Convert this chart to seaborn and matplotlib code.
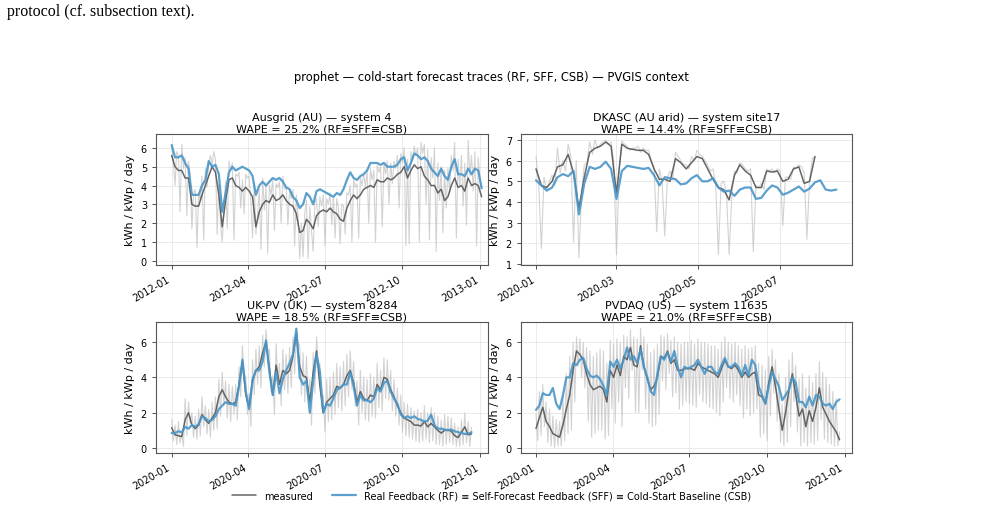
import pandas as pd
import matplotlib
matplotlib.use("Agg")
import matplotlib.pyplot as plt
import matplotlib.dates as mdates
import seaborn as sns

# values in kWh / kWp / day
# raw measured: one value every 2 days; smoothed measured and forecast: every 4 days
aus_start = "2012-01-01"
aus_raw = [6.1, 5.2, 4.0, 5.8, 5.6, 2.6, 6.2, 4.9, 5.5, 2.4, 5.3, 4.6, 1.7, 3.6, 3.8, 0.7, 3.6, 3.2, 4.5, 1.1,
           4.9, 3.9, 5.2, 5.6, 5.1, 5.8, 5.4, 1.4, 4.1, 2.0, 1.0, 2.6, 4.2, 1.7, 5.3, 4.8, 5.2, 1.1, 4.6, 4.5,
           4.7, 2.8, 4.3, 2.5, 4.6, 4.4, 4.5, 3.2, 1.2, 4.2, 1.4, 2.5, 3.8, 0.6, 4.4, 2.7, 4.0, 0.4, 4.0, 3.5,
           4.3, 1.6, 4.1, 3.9, 4.2, 2.0, 4.5, 3.8, 3.9, 1.9, 3.7, 3.3, 3.8, 0.8, 3.5, 2.4, 0.1, 2.0, 0.2, 2.5,
           3.2, 0.1, 2.9, 1.6, 0.5, 3.1, 3.3, 1.8, 3.4, 2.9, 3.5, 0.8, 3.3, 3.0, 3.6, 1.9, 3.4, 1.2, 3.3, 2.8,
           0.9, 3.0, 2.9, 1.4, 3.6, 3.5, 4.0, 1.0, 4.3, 3.9, 4.1, 1.2, 4.4, 4.0, 4.6, 3.9, 4.8, 2.0, 4.9, 4.3,
           4.8, 1.0, 5.1, 4.7, 5.0, 1.8, 5.2, 4.6, 5.3, 3.0, 5.2, 4.1, 5.3, 4.9, 5.6, 2.8, 5.7, 5.2, 6.0, 0.8,
           5.4, 0.9, 5.8, 5.3, 6.1, 5.6, 6.0, 1.0, 6.3, 5.7, 6.2, 3.0, 5.9, 1.1, 5.5, 4.4, 6.0, 0.5, 5.2, 3.2,
           5.0, 1.5, 4.8, 2.8, 4.9, 3.6, 5.6, 4.8, 6.3, 1.2, 5.4, 3.9, 5.6, 2.9, 5.2, 1.9, 6.4, 4.5, 5.6, 3.7,
           5.8, 0.8, 5.5, 4.2, 3.9]
aus_meas = [5.6, 5.0, 4.8, 4.8, 4.4, 4.4, 3.0, 2.9, 2.9, 3.5, 4.0, 4.5, 5.0, 4.7, 3.5, 1.8, 3.2, 4.3, 4.4, 4.0,
            3.9, 3.7, 3.9, 3.7, 3.4, 1.8, 2.6, 3.0, 3.2, 3.1, 3.5, 3.2, 3.3, 3.5, 3.2, 3.0, 2.9, 2.5, 1.5, 1.6,
            2.2, 2.0, 1.7, 2.4, 2.6, 2.7, 2.6, 2.8, 2.6, 2.5, 2.2, 2.1, 2.8, 3.2, 3.5, 3.3, 3.5, 3.8, 3.9, 4.0,
            3.9, 4.3, 4.2, 4.2, 4.4, 4.3, 4.4, 4.6, 4.7, 5.0, 4.4, 4.8, 5.1, 4.9, 5.0, 4.5, 4.3, 4.0, 4.0, 3.6,
            3.8, 3.2, 3.4, 4.0, 4.4, 3.9, 4.0, 3.7, 4.4, 4.0, 4.1, 4.0, 3.4]
aus_fc = [6.15, 5.5, 5.5, 5.6, 5.2, 4.9, 3.5, 3.5, 3.5, 4.0, 4.3, 5.3, 5.0, 5.1, 4.6, 2.6, 3.6, 4.7, 5.0, 4.8,
          4.9, 5.0, 4.9, 4.8, 4.5, 3.5, 4.0, 4.2, 4.0, 4.2, 4.4, 4.3, 4.4, 4.2, 3.9, 3.8, 3.4, 3.2, 2.8, 3.0,
          3.6, 3.4, 3.0, 3.7, 3.8, 3.7, 3.6, 3.5, 3.4, 3.6, 3.5, 3.8, 4.3, 4.7, 4.4, 4.3, 4.5, 4.6, 4.8, 5.2,
          5.2, 5.2, 5.1, 5.2, 5.0, 5.0, 5.0, 5.1, 5.4, 5.5, 4.8, 5.2, 5.7, 5.6, 5.4, 5.5, 5.3, 4.9, 4.7, 4.5,
          4.9, 4.5, 4.3, 5.0, 5.4, 4.6, 4.6, 4.5, 4.9, 4.6, 4.9, 4.8, 3.85]

dka_start = "2020-01-01"
dka_raw = [6.2, 4.9, 1.75, 5.2, 4.6, 5.0, 5.3, 4.8, 6.6, 5.4, 6.0, 5.5, 6.8, 6.2, 2.05, 6.0, 1.3, 4.5, 5.8, 5.9,
           6.9, 6.3, 7.0, 6.6, 6.8, 6.9, 7.0, 6.8, 6.9, 5.9, 1.45, 5.5, 6.95, 6.8, 6.7, 6.5, 6.6, 6.6, 6.7, 6.4,
           6.6, 6.5, 6.5, 6.0, 5.7, 2.55, 5.6, 5.0, 2.35, 5.2, 5.5, 5.1, 6.4, 6.2, 6.0, 5.8, 5.8, 5.6, 6.2, 6.0,
           6.5, 6.3, 6.2, 6.0, 5.8, 5.5, 5.6, 4.8, 1.45, 4.9, 5.0, 4.5, 1.45, 4.3, 5.5, 5.4, 5.9, 5.8, 5.6, 5.5,
           5.6, 1.6, 4.8, 4.7, 4.9, 4.6, 5.6, 5.5, 5.6, 5.4, 5.6, 5.5, 2.85, 5.2, 5.2, 5.1, 5.7, 5.6, 5.8, 5.7,
           5.4, 2.2, 5.1, 6.1, 6.2]
dka_meas = [5.6, 4.8, 4.7, 5.0, 5.7, 5.8, 6.3, 5.4, 3.7, 5.2, 6.4, 6.6, 6.7, 6.9, 6.7, 4.4, 6.8, 6.6, 6.55, 6.5,
            6.5, 6.3, 5.6, 5.1, 5.1, 5.0, 6.1, 5.9, 5.6, 5.9, 6.2, 6.1, 5.6, 5.1, 4.7, 4.6, 4.1, 5.3, 5.8, 5.5,
            5.3, 4.7, 4.7, 5.5, 5.45, 5.5, 5.0, 5.1, 5.6, 5.7, 4.9, 5.0, 6.2]
dka_fc = [5.05, 4.8, 4.55, 4.7, 5.2, 5.35, 5.25, 5.5, 3.4, 4.9, 5.7, 5.6, 5.7, 5.95, 5.6, 4.15, 5.5, 5.75, 5.7, 5.65,
          5.6, 5.65, 5.3, 4.8, 5.2, 5.15, 5.1, 4.85, 4.9, 5.15, 5.3, 5.0, 5.0, 5.15, 4.7, 4.5, 4.55, 4.3, 4.6, 4.7,
          4.7, 4.15, 4.2, 4.55, 4.8, 4.7, 4.35, 4.45, 4.6, 4.75, 4.5, 4.65, 4.95, 5.05, 4.6, 4.55, 4.6]

ukp_start = "2020-01-01"
ukp_raw = [1.6, 0.4, 1.3, 0.2, 1.5, 0.3, 0.8, 0.1, 2.8, 0.7, 2.6, 1.4, 2.0, 0.6, 1.8, 0.5, 2.2, 0.7, 2.9, 1.2,
           2.4, 0.8, 2.2, 0.6, 2.6, 1.0, 2.9, 1.1, 3.9, 1.8, 4.3, 2.4, 3.8, 1.7, 3.6, 1.5, 3.5, 1.9, 3.6, 1.6,
           4.6, 2.9, 5.8, 4.2, 4.0, 1.9, 3.1, 1.2, 5.0, 3.0, 5.6, 3.6, 5.8, 3.4, 6.4, 4.6, 6.7, 5.4, 5.6, 3.2,
           4.1, 1.9, 5.9, 3.8, 4.8, 2.4, 5.6, 3.3, 5.3, 3.1, 5.7, 3.4, 6.3, 4.2, 6.8, 6.0, 5.8, 3.0, 5.4, 2.6,
           5.2, 2.8, 3.9, 1.3, 5.4, 3.1, 6.3, 4.7, 4.8, 2.2, 3.0, 0.9, 3.9, 1.5, 4.0, 1.6, 4.3, 1.9, 4.8, 2.3,
           4.6, 2.1, 4.9, 2.4, 5.3, 2.9, 5.5, 3.3, 4.9, 2.4, 3.8, 1.3, 4.4, 2.0, 4.0, 1.6, 3.9, 1.5, 4.2, 1.8,
           4.0, 1.7, 4.8, 2.3, 4.4, 2.1, 5.1, 2.8, 5.0, 2.7, 4.4, 2.1, 3.9, 1.8, 3.4, 1.3, 3.0, 0.9, 2.6, 0.7,
           2.5, 0.6, 2.3, 0.5, 2.1, 0.4, 2.2, 0.3, 2.0, 0.4, 2.4, 0.5, 2.0, 0.3, 2.3, 0.4, 2.0, 0.2, 1.8, 0.2,
           1.6, 0.1, 1.9, 0.2, 1.8, 0.3, 1.7, 0.2, 1.4, 0.1, 1.2, 0.1, 1.6, 0.2, 2.0, 0.3, 1.5, 0.1, 1.2]
ukp_meas = [1.15, 0.75, 0.7, 0.65, 1.6, 2.0, 1.3, 1.1, 1.3, 1.9, 1.6, 1.4, 1.7, 2.0, 2.9, 3.3, 2.9, 2.6, 2.5, 2.6,
            3.6, 4.9, 3.0, 2.3, 3.9, 4.4, 4.6, 5.4, 6.0, 4.5, 3.0, 4.7, 3.6, 4.4, 4.2, 4.4, 5.2, 6.5, 4.6, 4.1,
            4.0, 2.6, 4.3, 5.5, 3.5, 2.0, 2.6, 2.8, 3.0, 3.5, 3.4, 3.6, 4.1, 4.4, 3.7, 2.6, 3.2, 2.8, 2.7, 3.0,
            2.9, 3.6, 3.3, 4.0, 3.9, 3.3, 2.9, 2.4, 2.0, 1.7, 1.6, 1.5, 1.3, 1.3, 1.25, 1.5, 1.2, 1.4, 1.2, 1.0,
            0.85, 1.0, 1.05, 0.95, 0.7, 0.6, 0.9, 1.2, 0.75, 0.8]
ukp_fc = [0.85, 0.85, 0.95, 0.9, 1.2, 1.1, 1.3, 1.2, 1.35, 1.8, 1.7, 1.5, 1.6, 1.8, 2.2, 2.4, 2.6, 2.5, 2.5, 2.4,
          3.5, 5.0, 3.2, 2.2, 3.8, 4.4, 4.4, 4.9, 6.1, 4.3, 3.0, 4.3, 3.1, 3.9, 4.4, 4.8, 5.3, 6.75, 4.0, 3.6,
          3.8, 2.0, 3.8, 5.3, 4.3, 2.0, 2.5, 2.4, 2.8, 3.3, 3.4, 3.6, 3.6, 4.3, 3.5, 2.4, 3.0, 2.7, 2.7, 2.6,
          2.8, 3.4, 3.2, 3.7, 3.8, 3.2, 2.8, 2.5, 1.9, 1.7, 1.8, 1.7, 1.8, 1.65, 1.6, 1.5, 1.55, 1.9, 1.3, 1.1,
          1.1, 1.05, 1.0, 1.05, 0.95, 0.9, 0.85, 0.8, 0.8, 0.9]

pvd_start = "2020-01-01"
pvd_raw = [1.9, 0.4, 3.2, 0.7, 3.6, 1.2, 2.6, 0.3, 2.2, 0.1, 1.8, 0.0, 1.6, 0.1, 1.5, 0.1, 3.0, 0.4, 4.2, 0.8,
           5.2, 1.0, 6.0, 2.6, 6.3, 4.6, 6.2, 4.0, 6.0, 3.4, 5.7, 1.5, 5.5, 0.6, 5.2, 0.8, 5.4, 1.0, 5.6, 1.0,
           5.5, 0.5, 4.8, 0.7, 6.1, 2.2, 5.9, 1.4, 6.2, 2.6, 6.0, 1.2, 6.4, 3.4, 6.3, 2.8, 6.7, 4.4, 6.3, 2.0,
           6.2, 2.0, 6.8, 4.4, 6.3, 2.2, 5.9, 1.4, 5.4, 1.2, 5.6, 1.3, 5.9, 1.9, 6.4, 3.8, 6.3, 3.3, 6.5, 4.2,
           6.1, 2.9, 6.3, 3.1, 6.0, 2.2, 5.9, 2.4, 6.0, 2.6, 6.0, 2.5, 6.1, 2.4, 5.9, 2.3, 6.2, 3.0, 6.0, 2.6,
           6.0, 2.5, 5.9, 2.3, 5.8, 2.2, 5.8, 2.0, 5.6, 1.8, 6.0, 2.6, 6.3, 3.4, 6.0, 2.8, 5.9, 2.6, 6.0, 3.0,
           5.8, 2.4, 5.6, 1.7, 5.8, 2.2, 5.6, 1.8, 5.7, 2.0, 5.8, 2.2, 4.8, 0.6, 4.7, 0.8, 4.4, 0.4, 5.2, 1.8,
           5.6, 3.1, 5.0, 1.5, 4.2, 0.3, 2.5, 0.1, 4.0, 0.3, 5.0, 1.2, 5.4, 2.6, 4.7, 0.9, 3.9, 0.1, 4.2, 0.3,
           3.4, 0.1, 4.1, 0.3, 3.7, 0.2, 4.2, 0.4, 4.9, 1.6, 4.3, 0.5, 4.0, 0.3, 3.6, 0.2, 3.2, 0.1, 2.8, 0.1,
           0.9]
pvd_meas = [1.1, 1.7, 2.3, 1.5, 1.2, 0.8, 0.7, 0.6, 1.3, 2.2, 3.0, 4.4, 5.5, 5.3, 5.0, 4.2, 3.6, 3.3, 3.4, 3.5,
            3.3, 2.6, 4.4, 4.0, 4.7, 4.1, 5.2, 5.0, 5.7, 4.7, 4.6, 5.8, 4.6, 3.9, 3.3, 3.5, 4.0, 5.2, 5.1, 5.5,
            4.8, 5.0, 4.4, 4.4, 4.5, 4.5, 4.5, 4.4, 4.8, 4.6, 4.5, 4.4, 4.3, 4.2, 4.0, 4.5, 5.0, 4.6, 4.5, 4.7,
            4.4, 4.0, 4.3, 4.0, 4.2, 4.3, 3.0, 2.9, 2.5, 3.7, 4.6, 3.5, 2.2, 1.0, 2.0, 3.3, 4.2, 3.0, 1.8, 2.2,
            1.2, 2.1, 1.5, 2.3, 3.4, 2.3, 1.9, 1.5, 1.2, 0.9, 0.45]
pvd_fc = [2.15, 2.4, 3.1, 3.0, 3.0, 3.4, 2.5, 2.2, 3.0, 4.0, 4.0, 4.8, 4.7, 5.0, 5.1, 4.5, 4.1, 4.0, 4.1, 3.9,
          3.5, 3.0, 4.9, 4.6, 5.0, 4.5, 5.0, 5.7, 5.0, 5.2, 4.8, 5.6, 4.6, 4.0, 3.2, 3.0, 4.2, 5.2, 5.0, 5.4,
          4.9, 5.5, 4.6, 4.0, 4.6, 4.5, 4.6, 4.7, 5.0, 4.6, 4.2, 4.6, 4.6, 4.3, 4.2, 4.7, 5.1, 4.6, 4.6, 4.8,
          4.6, 4.1, 4.7, 4.1, 5.0, 4.7, 3.5, 3.0, 2.5, 3.5, 4.3, 3.9, 3.5, 2.7, 3.0, 3.3, 4.0, 3.7, 2.6, 2.6,
          2.3, 2.9, 2.4, 3.0, 2.9, 2.5, 2.4, 2.5, 2.2, 2.6, 2.75]

titles = ["Ausgrid (AU) — system 4", "DKASC (AU arid) — system site17",
          "UK-PV (UK) — system 8284", "PVDAQ (US) — system 11635"]
wape = [25.2, 14.4, 18.5, 21.0]

sns.set_theme(style="ticks")
plt.rcParams['font.family'] = ['DejaVu Sans']
plt.rcParams['text.color'] = 'black'
plt.rcParams['axes.labelcolor'] = 'black'

RAW_C = "#b5b5b5"
MEAS_C = "#555555"
FC_C = "#4a96c9"

fig = plt.figure(figsize=(9.83, 5.10), dpi=100)

panels = [
    (aus_start, aus_raw, aus_meas, aus_fc, [0.1587, 0.4784, 0.3377, 0.2569], (-18.6, 375.5), (-0.23, 6.74), range(0, 7), [1, 4, 7, 10]),
    (dka_start, dka_raw, dka_meas, dka_fc, [0.5300, 0.4784, 0.3367, 0.2569], (-11.2, 235.6), (0.95, 7.29), range(1, 8), [1, 3, 5, 7]),
    (ukp_start, ukp_raw, ukp_meas, ukp_fc, [0.1587, 0.1098, 0.3377, 0.2569], (-18.6, 375.5), (-0.28, 7.14), range(0, 7, 2), [1, 4, 7, 10]),
    (pvd_start, pvd_raw, pvd_meas, pvd_fc, [0.5300, 0.1098, 0.3367, 0.2569], (-17.8, 374.7), (-0.30, 7.15), range(0, 7, 2), [1, 4, 7, 10]),
]

for k, (start, raw, meas, fc, pos, xl, yl, yt, months) in enumerate(panels):
    ax = fig.add_axes(pos)
    t0 = pd.Timestamp(start)
    d_raw = pd.date_range(t0, periods=len(raw), freq="2D")
    d_meas = pd.date_range(t0, periods=len(meas), freq="4D")
    d_fc = pd.date_range(t0, periods=len(fc), freq="4D")

    sns.lineplot(x=d_raw, y=raw, ax=ax, color=RAW_C, lw=0.8, alpha=0.6)
    sns.lineplot(x=d_meas, y=meas, ax=ax, color=MEAS_C, lw=1.1, alpha=0.9,
                 label="measured" if k == 0 else None)
    sns.lineplot(x=d_fc, y=fc, ax=ax, color=FC_C, lw=1.6, alpha=0.9,
                 label="Real Feedback (RF) ≡ Self-Forecast Feedback (SFF) ≡ Cold-Start Baseline (CSB)" if k == 0 else None)

    ax.set_xlim(t0 + pd.Timedelta(days=xl[0]), t0 + pd.Timedelta(days=xl[1]))
    ax.set_ylim(*yl)
    ax.set_yticks(list(yt))
    ax.xaxis.set_major_locator(mdates.MonthLocator(bymonth=months))
    ax.xaxis.set_major_formatter(mdates.DateFormatter("%Y-%m"))
    for lab in ax.get_xticklabels():
        lab.set_rotation(30)
        lab.set_ha("right")
    ax.tick_params(labelsize=7, length=3, width=0.6, color="#333333", labelcolor="black")
    ax.grid(True, color="#dddddd", lw=0.6, alpha=0.7)
    for s in ax.spines.values():
        s.set_color("#555555")
        s.set_linewidth(0.8)
    ax.set_ylabel("kWh / kWp / day", fontsize=8)
    ax.set_xlabel("")
    ax.set_title(f"{titles[k]}\nWAPE = {wape[k]:.1f}% (RF≡SFF≡CSB)", fontsize=8, pad=2)
    if k == 0:
        handles, labels = ax.get_legend_handles_labels()
        ax.get_legend().remove()

fig.legend(handles, labels, loc="center", bbox_to_anchor=(0.5, 0.026), ncol=2,
           frameon=False, fontsize=7, handlelength=2.5, columnspacing=2.0)
fig.suptitle("prophet — cold-start forecast traces (RF, SFF, CSB) — PVGIS context",
             fontsize=8.3, y=0.849, va="center")
fig.text(0.007, 0.976, "protocol (cf. subsection text).", fontsize=11.5,
         family="Liberation Serif", va="center", ha="left")

fig.savefig("out.png", dpi=100)
